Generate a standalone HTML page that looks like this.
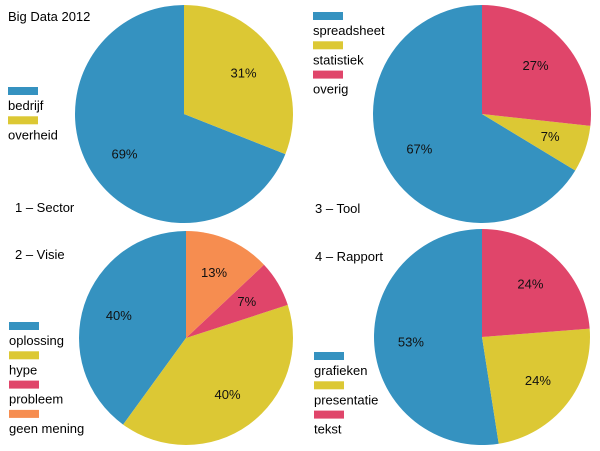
<!DOCTYPE html>
<html><head><meta charset="utf-8"><style>
html,body{margin:0;padding:0;background:#fff;}
svg{display:block;font-family:"Liberation Sans",sans-serif;}
</style></head><body>
<svg id="c" width="600" height="451" viewBox="0 0 600 451">
<text x="8" y="21" font-size="13">Big Data  2012</text>
</svg>
<script>
const pie1Labels = ["bedrijf","overheid"];
const pie1Values = [69,31];
const pie2Labels = ["oplossing","hype","probleem","geen mening"];
const pie2Values = [40,40,7,13];
const pie3Labels = ["spreadsheet","statistiek","overig"];
const pie3Values = [67,7,27];
const pie4Labels = ["grafieken","presentatie","tekst"];
const pie4Values = [53,24,24];
const colors = ["#3592c0","#dcc834","#e0456a","#f68d50"];
const NS = "http://www.w3.org/2000/svg";
const svg = document.getElementById("c");
function mk(tag, attrs){const e=document.createElementNS(NS,tag);for(const k in attrs)e.setAttribute(k,attrs[k]);return e;}
function drawPie(id, title, labels, values, cx, cy, r, titlePos, legX, legY){
  const g = mk("g",{});
  
  
  svg.appendChild(g);
  const total = values.reduce((a,b)=>a+b,0);
  let acc = 0;
  values.forEach((v,i)=>{
    const a0 = acc/total*2*Math.PI, a1 = (acc+v)/total*2*Math.PI; acc += v;
    // counterclockwise from top
    const x0 = cx - r*Math.sin(a0), y0 = cy - r*Math.cos(a0);
    const x1 = cx - r*Math.sin(a1), y1 = cy - r*Math.cos(a1);
    const large = (a1-a0) > Math.PI ? 1 : 0;
    const p = mk("path",{d:`M${cx},${cy} L${x0},${y0} A${r},${r} 0 ${large} 0 ${x1},${y1} Z`,fill:colors[i]});
    
    
    g.appendChild(p);
    const am = (a0+a1)/2, lr = r*0.66;
    const t = mk("text",{x:cx - lr*Math.sin(am), y:cy - lr*Math.cos(am)+4, "font-size":"13","text-anchor":"middle",fill:"#111"});
    t.textContent = v + "%";
    
    
    g.appendChild(t);
  });
  const tt = mk("text",{x:titlePos[0], y:titlePos[1], "font-size":"13"});
  tt.textContent = title;
  
  
  g.appendChild(tt);
  labels.forEach((l,i)=>{
    const y = legY + i*29.3;
    const s = mk("rect",{x:legX, y:y, width:30, height:8, fill:colors[i]});
    
    
    g.appendChild(s);
    const t = mk("text",{x:legX, y:y+23, "font-size":"13"});
    t.textContent = l;
    
    
    g.appendChild(t);
  });
}
drawPie("sector","1 – Sector",pie1Labels,pie1Values,184,114,109,[15,212],8,87);
drawPie("visie","2 – Visie",pie2Labels,pie2Values,186,338,107,[15,259],9,322);
drawPie("tool","3 – Tool",pie3Labels,pie3Values,482,114,109,[315,213],313,12);
drawPie("rapport","4 – Rapport",pie4Labels,pie4Values,482,337,108,[315,261],314,352);
</script>
</body></html>
